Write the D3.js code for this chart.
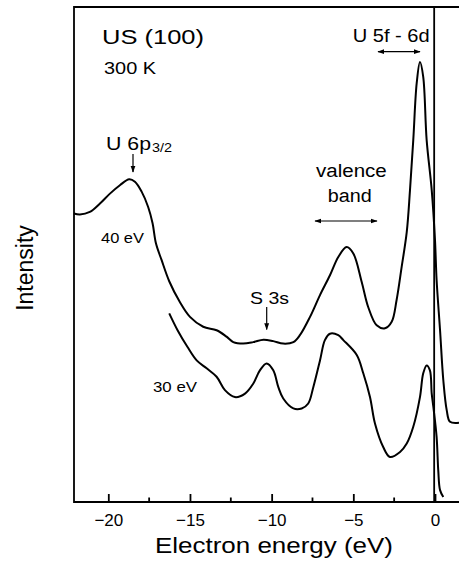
<!DOCTYPE html>
<html>
<head>
<meta charset="utf-8">
<script src="https://cdn.jsdelivr.net/npm/d3@7"></script>
<style>
  body { margin: 0; background: #fff; }
  text { font-family: "Liberation Sans", Arial, sans-serif; fill: #000; }
</style>
</head>
<body>
<div id="chart"></div>
<script>
// photoemission spectra, 40 eV and 30 eV photon energy
var energy40 = [-22.11, -21.74, -21.13, -20.51, -19.90, -19.29, -18.72, -18.37, -17.96, -17.56,
  -17.29, -17.08, -16.74, -16.27, -15.62, -15.00, -14.19, -13.37, -12.76, -12.35,
  -11.74, -11.13, -10.50, -9.90, -9.29, -8.67, -8.27, -7.65, -7.04, -6.43,
  -5.92, -5.41, -5.00, -4.49, -4.09, -3.57, -3.06, -2.65, -2.35, -2.04,
  -1.73, -1.53, -1.33, -1.12, -0.92, -0.72, -0.51, -0.20, 0.00, 0.10,
  0.31, 0.51, 0.72, 0.92, 1.47];
var intensity40 = [58.3, 58.1, 58.6, 60.3, 62.3, 64.0, 65.2, 64.7, 62.7, 59.6,
  56.3, 52.2, 48.9, 44.6, 40.4, 37.4, 35.4, 34.7, 33.4, 32.3,
  32.0, 32.3, 32.8, 32.5, 32.0, 32.3, 33.7, 37.4, 41.8, 45.8,
  49.5, 51.5, 50.2, 44.5, 39.4, 35.7, 35.1, 36.4, 40.8, 47.5,
  54.5, 63.0, 73.1, 84.6, 88.9, 85.9, 73.1, 63.0, 52.9, 44.8,
  34.7, 24.6, 18.5, 16.2, 16.0];

var energy30 = [-16.27, -15.76, -15.15, -14.59, -13.98, -13.37, -12.86, -12.25, -11.63, -11.13,
  -10.72, -10.31, -9.90, -9.59, -9.29, -8.67, -8.16, -7.76, -7.45, -7.04,
  -6.74, -6.43, -5.92, -5.61, -4.79, -4.39, -3.98, -3.67, -3.17, -2.76,
  -2.14, -1.73, -1.33, -0.92, -0.72, -0.51, -0.31, -0.20, -0.10, 0.10,
  0.20, 0.31, 0.51];
var intensity30 = [38.1, 34.7, 31.3, 28.6, 27.0, 25.3, 22.6, 21.2, 21.9, 23.9,
  26.6, 28.0, 26.6, 23.2, 20.9, 18.9, 18.9, 19.9, 23.2, 28.6,
  32.7, 34.0, 33.7, 32.7, 29.7, 26.0, 21.2, 15.8, 11.1, 9.1,
  10.1, 11.8, 15.2, 21.2, 26.0, 27.6, 26.6, 21.9, 19.2, 13.1,
  6.4, 2.4, 1.0];

var majorTicks = [-20, -15, -10, -5, 0];
var minorTicks = [-17.5, -12.5, -7.5, -2.5];
var fermiLevel = -0.05;

var svgWidth = 459;
var svgHeight = 565;

var margin = { top: 7, right: 0, bottom: 63, left: 74 };
var width = svgWidth - margin.left - margin.right;
var height = svgHeight - margin.top - margin.bottom;

var svg = d3.select("#chart")
  .append("svg")
  .attr("width", svgWidth)
  .attr("height", svgHeight);

// arrow head
svg.append("defs").append("marker")
  .attr("id", "head")
  .attr("viewBox", "0 0 10 10")
  .attr("refX", 9)
  .attr("refY", 5)
  .attr("markerWidth", 7)
  .attr("markerHeight", 7)
  .attr("markerUnits", "userSpaceOnUse")
  .attr("orient", "auto-start-reverse")
  .append("path")
  .attr("d", "M0,1.5L10,5L0,8.5z")
  .attr("fill", "#000");

var chartGroup = svg.append("g")
  .attr("transform", `translate(${margin.left}, ${margin.top})`);

var xScale = d3.scaleLinear()
  .domain([-22.1, 1.47])
  .range([0, width]);

var yScale = d3.scaleLinear()
  .domain([0, 100])
  .range([height, 0]);

// frame: left, top, bottom
chartGroup.append("path")
  .attr("d", `M${width},0H0V${height}H${width}`)
  .attr("fill", "none")
  .attr("stroke", "#000")
  .attr("stroke-width", 1.8);

// major ticks, pointing inward
var bottomAxis = d3.axisBottom(xScale)
  .tickValues(majorTicks)
  .tickSizeInner(-8)
  .tickSizeOuter(0)
  .tickPadding(12);

var xAxis = chartGroup.append("g")
  .attr("transform", `translate(0, ${height})`)
  .call(bottomAxis);

xAxis.select(".domain").remove();
xAxis.selectAll(".tick line").attr("stroke-width", 1.8);
xAxis.selectAll(".tick text")
  .attr("font-size", 17)
  .attr("font-family", "Liberation Sans, Arial, sans-serif")
  .attr("dy", "0.71em");

// minor ticks
chartGroup.append("g")
  .selectAll("line")
  .data(minorTicks)
  .enter()
  .append("line")
  .attr("x1", d => xScale(d))
  .attr("x2", d => xScale(d))
  .attr("y1", height)
  .attr("y2", height - 4.5)
  .attr("stroke", "#000")
  .attr("stroke-width", 1.8);

// vertical line at the Fermi level
chartGroup.append("line")
  .attr("x1", xScale(fermiLevel))
  .attr("x2", xScale(fermiLevel))
  .attr("y1", 0)
  .attr("y2", height)
  .attr("stroke", "#000")
  .attr("stroke-width", 1.8);

var line = d3.line()
  .x(d => xScale(d[0]))
  .y(d => yScale(d[1]))
  .curve(d3.curveCatmullRom.alpha(0.5));

var spectra = [
  d3.zip(energy40, intensity40),
  d3.zip(energy30, intensity30)
];

chartGroup.selectAll(".spectrum")
  .data(spectra)
  .enter()
  .append("path")
  .attr("class", "spectrum")
  .attr("d", line)
  .attr("fill", "none")
  .attr("stroke", "#000")
  .attr("stroke-width", 2)
  .attr("stroke-linejoin", "round");

// labels (positions in page pixels)
function label(x, y, size, len, str) {
  return svg.append("text")
    .attr("x", x)
    .attr("y", y)
    .attr("font-size", size)
    .attr("textLength", len)
    .attr("lengthAdjust", "spacingAndGlyphs")
    .text(str);
}

label(102, 43.5, 20, 102, "US (100)");
label(104, 74, 16, 52, "300 K");
label(106, 150, 18, 45, "U 6p");
label(152, 152, 13, 20, "3/2");
label(101, 242.5, 14, 43, "40 eV");
label(153, 392, 14, 44, "30 eV");
label(250, 304, 17, 39, "S 3s");
label(316, 176.7, 18, 70.7, "valence");
label(327.7, 201.7, 18, 44, "band");
label(352.7, 42.3, 19, 77, "U 5f - 6d");

// arrows
function arrow(x1, y1, x2, y2, both) {
  var a = svg.append("line")
    .attr("x1", x1).attr("y1", y1)
    .attr("x2", x2).attr("y2", y2)
    .attr("stroke", "#000")
    .attr("stroke-width", 1.2)
    .attr("marker-end", "url(#head)");
  if (both) a.attr("marker-start", "url(#head)");
}

arrow(133, 154, 133, 172, false);
arrow(266.7, 307, 266.7, 329.5, false);
arrow(315, 221, 377, 221, true);
arrow(378, 51.7, 420, 51.7, true);

// axis titles
svg.append("text")
  .attr("x", 155)
  .attr("y", 553)
  .attr("font-size", 22)
  .attr("textLength", 238)
  .attr("lengthAdjust", "spacingAndGlyphs")
  .text("Electron energy (eV)");

svg.append("text")
  .attr("transform", "translate(33, 268) rotate(-90)")
  .attr("text-anchor", "middle")
  .attr("font-size", 23)
  .text("Intensity");
</script>
</body>
</html>
